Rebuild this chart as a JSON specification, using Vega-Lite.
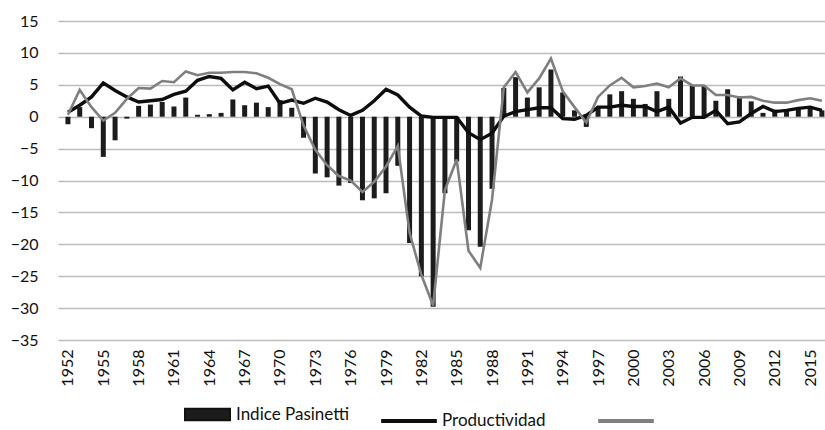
{
  "$schema": "https://vega.github.io/schema/vega-lite/v6.json",
  "width": 767,
  "height": 319,
  "autosize": {"type": "none"},
  "padding": {"left": 58, "top": 21, "right": 0, "bottom": 90},
  "background": "white",
  "config": {
    "view": {"stroke": null},
    "font": "Lato",
    "axis": {"labelColor": "#111111", "labelFont": "Lato", "title": null}
  },
  "data": {
    "values": [
      {"year": 1952, "pas": -1.2, "prod": 0.7, "g": 0.3},
      {"year": 1953, "pas": 1.5, "prod": 1.8, "g": 4.2},
      {"year": 1954, "pas": -1.8, "prod": 3.1, "g": 1.5},
      {"year": 1955, "pas": -6.3, "prod": 5.3, "g": -0.6},
      {"year": 1956, "pas": -3.7, "prod": 4.1, "g": 0.6},
      {"year": 1957, "pas": -0.3, "prod": 3.1, "g": 2.8},
      {"year": 1958, "pas": 1.7, "prod": 2.3, "g": 4.5},
      {"year": 1959, "pas": 1.9, "prod": 2.5, "g": 4.4},
      {"year": 1960, "pas": 2.3, "prod": 2.7, "g": 5.6},
      {"year": 1961, "pas": 1.6, "prod": 3.5, "g": 5.4},
      {"year": 1962, "pas": 3.0, "prod": 4.0, "g": 7.1},
      {"year": 1963, "pas": 0.3, "prod": 5.7, "g": 6.5},
      {"year": 1964, "pas": 0.4, "prod": 6.3, "g": 6.9},
      {"year": 1965, "pas": 0.6, "prod": 6.0, "g": 6.9},
      {"year": 1966, "pas": 2.7, "prod": 4.2, "g": 7.0},
      {"year": 1967, "pas": 1.8, "prod": 5.4, "g": 7.0},
      {"year": 1968, "pas": 2.2, "prod": 4.4, "g": 6.8},
      {"year": 1969, "pas": 1.5, "prod": 4.8, "g": 6.1},
      {"year": 1970, "pas": 2.6, "prod": 2.1, "g": 5.1},
      {"year": 1971, "pas": 1.4, "prod": 2.6, "g": 4.3},
      {"year": 1972, "pas": -3.3, "prod": 2.1, "g": -1.4},
      {"year": 1973, "pas": -8.9, "prod": 2.9, "g": -5.2},
      {"year": 1974, "pas": -9.5, "prod": 2.3, "g": -7.6},
      {"year": 1975, "pas": -10.8, "prod": 1.1, "g": -9.3},
      {"year": 1976, "pas": -10.4, "prod": 0.2, "g": -10.0},
      {"year": 1977, "pas": -13.1, "prod": 1.0, "g": -11.8},
      {"year": 1978, "pas": -12.8, "prod": 2.5, "g": -10.2},
      {"year": 1979, "pas": -12.0, "prod": 4.3, "g": -7.8},
      {"year": 1980, "pas": -7.7, "prod": 3.4, "g": -4.6},
      {"year": 1981, "pas": -19.8, "prod": 1.5, "g": -18.2},
      {"year": 1982, "pas": -25.0, "prod": 0.1, "g": -24.8},
      {"year": 1983, "pas": -29.8, "prod": -0.1, "g": -29.6},
      {"year": 1984, "pas": -12.0, "prod": -0.1, "g": -11.5},
      {"year": 1985, "pas": -7.0, "prod": -0.1, "g": -6.7},
      {"year": 1986, "pas": -17.8, "prod": -2.5, "g": -21.0},
      {"year": 1987, "pas": -20.4, "prod": -3.6, "g": -23.7},
      {"year": 1988, "pas": -11.3, "prod": -2.6, "g": -13.0},
      {"year": 1989, "pas": 4.5, "prod": 0.1, "g": 4.6},
      {"year": 1990, "pas": 6.2, "prod": 0.8, "g": 7.0},
      {"year": 1991, "pas": 3.0, "prod": 1.1, "g": 3.8},
      {"year": 1992, "pas": 4.6, "prod": 1.4, "g": 6.0},
      {"year": 1993, "pas": 7.4, "prod": 1.4, "g": 9.1},
      {"year": 1994, "pas": 3.8, "prod": -0.3, "g": 4.0},
      {"year": 1995, "pas": 1.0, "prod": -0.4, "g": 1.5},
      {"year": 1996, "pas": -1.6, "prod": 0.2, "g": -0.9},
      {"year": 1997, "pas": 1.5, "prod": 1.5, "g": 3.1},
      {"year": 1998, "pas": 3.5, "prod": 1.5, "g": 4.9},
      {"year": 1999, "pas": 4.0, "prod": 1.8, "g": 6.1},
      {"year": 2000, "pas": 2.8, "prod": 1.6, "g": 4.6},
      {"year": 2001, "pas": 2.0, "prod": 1.6, "g": 4.8},
      {"year": 2002, "pas": 4.0, "prod": 0.8, "g": 5.2},
      {"year": 2003, "pas": 2.8, "prod": 1.5, "g": 4.6},
      {"year": 2004, "pas": 6.3, "prod": -1.0, "g": 6.0},
      {"year": 2005, "pas": 4.9, "prod": -0.1, "g": 4.9},
      {"year": 2006, "pas": 4.8, "prod": -0.1, "g": 4.9},
      {"year": 2007, "pas": 2.5, "prod": 1.0, "g": 3.4},
      {"year": 2008, "pas": 4.3, "prod": -1.1, "g": 3.4},
      {"year": 2009, "pas": 3.2, "prod": -0.8, "g": 3.0},
      {"year": 2010, "pas": 2.4, "prod": 0.5, "g": 3.1},
      {"year": 2011, "pas": 0.6, "prod": 1.6, "g": 2.5},
      {"year": 2012, "pas": 1.1, "prod": 0.8, "g": 2.2},
      {"year": 2013, "pas": 1.1, "prod": 1.0, "g": 2.2},
      {"year": 2014, "pas": 1.3, "prod": 1.3, "g": 2.6},
      {"year": 2015, "pas": 1.3, "prod": 1.5, "g": 2.9},
      {"year": 2016, "pas": 1.0, "prod": 1.0, "g": 2.5}
    ]
  },
  "encoding": {
    "x": {
      "field": "year",
      "type": "quantitative",
      "scale": {"domain": [1951.58, 2015.84], "nice": false, "zero": false},
      "axis": {
        "values": [1952, 1955, 1958, 1961, 1964, 1967, 1970, 1973, 1976, 1979, 1982, 1985, 1988, 1991, 1994, 1997, 2000, 2003, 2006, 2009, 2012, 2015],
        "tickCount": 30,
        "format": "d",
        "labelAngle": -90,
        "labelFontSize": 16,
        "labelPadding": 9,
        "ticks": false,
        "domain": false,
        "grid": false,
        "labelFlush": false,
        "labelOverlap": false
      }
    }
  },
  "layer": [
    {
      "mark": {"type": "bar", "size": 5, "clip": true},
      "encoding": {
        "y": {
          "field": "pas",
          "type": "quantitative",
          "scale": {"domain": [-35, 15], "nice": false},
          "axis": {
            "values": [-35, -30, -25, -20, -15, -10, -5, 0, 5, 10, 15],
            "tickCount": 20,
            "labelFontSize": 16,
            "labelPadding": 20,
            "labelOverlap": false,
            "labelFlush": false,
            "ticks": false,
            "domain": false,
            "grid": true,
            "gridColor": "#bdbdbd",
            "gridWidth": 1.6
          }
        },
        "fill": {
          "datum": "Indice Pasinetti",
          "scale": {"range": ["#1c1c1c"]},
          "legend": {
            "title": null,
            "orient": "none",
            "legendX": 126,
            "legendY": 370,
            "symbolType": "M-1,-0.26H1V0.26H-1Z",
            "symbolSize": 2025,
            "labelFontSize": 17,
            "labelFont": "Lato",
            "labelColor": "#111111",
            "labelOffset": 5,
            "encode": {"symbols": {"update": {"fill": {"value": "#555555"}, "stroke": {"value": "#111111"}, "strokeWidth": {"value": 2}, "opacity": {"value": 1}}}}
          }
        }
      }
    },
    {
      "mark": {"type": "line", "clip": true, "strokeWidth": 3.4, "strokeJoin": "miter"},
      "encoding": {
        "y": {"field": "prod", "type": "quantitative"},
        "stroke": {
          "datum": "Productividad",
          "scale": {"domain": ["Productividad", " "], "range": ["#0d0d0d", "#7f7f7f"]},
          "legend": {
            "title": null,
            "orient": "none",
            "direction": "horizontal",
            "legendX": 321,
            "legendY": 370,
            "symbolType": "stroke",
            "symbolSize": 3100,
            "symbolStrokeWidth": 4,
            "labelFontSize": 17,
            "labelFont": "Lato",
            "labelColor": "#111111",
            "labelOffset": 3,
            "columnPadding": 44
          }
        }
      }
    },
    {
      "mark": {"type": "line", "clip": true, "strokeWidth": 2.6},
      "encoding": {
        "y": {"field": "g", "type": "quantitative"},
        "stroke": {"datum": " "}
      }
    }
  ]
}
